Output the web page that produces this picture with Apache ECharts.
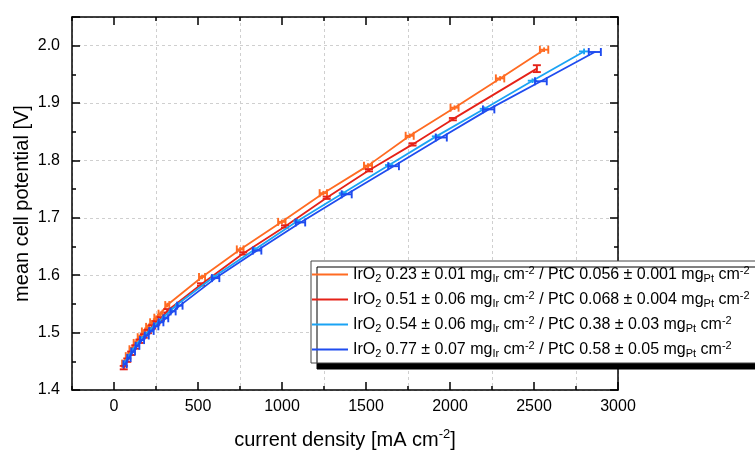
<!DOCTYPE html>
<html>
<head>
<meta charset="utf-8">
<script src="https://cdn.jsdelivr.net/npm/echarts@6/dist/echarts.min.js"></script>
<style>
html,body{margin:0;padding:0;background:#fff;}
#c{width:755px;height:454px;}
</style>
</head>
<body>
<div id="c"></div>
<script>
// ---- data ----
const xMajorTicks = [0, 500, 1000, 1500, 2000, 2500, 3000];
const yTickLabels = [1.4, 1.5, 1.6, 1.7, 1.8, 1.9, 2.0];

const seriesNames = ['s1', 's2', 's3', 's4'];

// IrO2 0.23 / PtC 0.056
const x1 = [56, 78, 101, 126, 151, 176, 201, 226, 251, 277, 317, 524, 751, 999, 1246, 1512, 1760, 2027, 2298, 2560];
const y1 = [1.446, 1.459, 1.471, 1.482, 1.492, 1.502, 1.510, 1.518, 1.526, 1.533, 1.548, 1.597, 1.645, 1.693, 1.743, 1.791, 1.843, 1.892, 1.943, 1.993];
const ex1 = [8, 8, 9, 9, 10, 10, 10, 11, 11, 12, 12, 18, 20, 22, 22, 24, 24, 24, 25, 25];
const ey1 = [0.004, 0.004, 0.004, 0.004, 0.004, 0.004, 0.004, 0.004, 0.004, 0.004, 0.004, 0.004, 0.004, 0.004, 0.004, 0.004, 0.004, 0.004, 0.004, 0.004];

// IrO2 0.51 / PtC 0.068
const x2 = [58, 79, 102, 127, 152, 177, 202, 227, 252, 278, 318, 518, 769, 1018, 1266, 1518, 1777, 2017, 2517];
const y2 = [1.439, 1.452, 1.464, 1.475, 1.485, 1.494, 1.502, 1.510, 1.517, 1.524, 1.538, 1.584, 1.638, 1.685, 1.735, 1.783, 1.828, 1.872, 1.960];
const ex2 = [3, 3, 3, 3, 3, 3, 3, 3, 3, 3, 3, 4, 4, 4, 4, 4, 4, 4, 5];
const ey2 = [0.003, 0.003, 0.003, 0.003, 0.003, 0.003, 0.003, 0.003, 0.003, 0.003, 0.003, 0.002, 0.002, 0.002, 0.002, 0.002, 0.002, 0.002, 0.006];

// IrO2 0.54 / PtC 0.38
const x3 = [62, 84, 108, 133, 160, 187, 214, 241, 268, 296, 338, 376, 593, 838, 1090, 1362, 1638, 1918, 2205, 2491, 2798];
const y3 = [1.447, 1.458, 1.469, 1.479, 1.489, 1.497, 1.505, 1.513, 1.520, 1.527, 1.539, 1.549, 1.597, 1.645, 1.694, 1.743, 1.792, 1.842, 1.890, 1.939, 1.990];
const ex3 = [8, 8, 9, 9, 10, 10, 10, 11, 11, 12, 12, 13, 18, 20, 22, 24, 25, 26, 28, 28, 30];
const ey3 = [0.004, 0.004, 0.004, 0.004, 0.004, 0.004, 0.004, 0.004, 0.004, 0.004, 0.004, 0.004, 0.004, 0.004, 0.004, 0.004, 0.004, 0.004, 0.004, 0.004, 0.005];

// IrO2 0.77 / PtC 0.58
const x4 = [66, 89, 114, 140, 167, 195, 223, 251, 280, 309, 352, 392, 605, 852, 1110, 1385, 1664, 1948, 2230, 2541, 2862];
const y4 = [1.445, 1.456, 1.467, 1.477, 1.487, 1.495, 1.503, 1.511, 1.518, 1.525, 1.537, 1.547, 1.595, 1.643, 1.692, 1.741, 1.790, 1.840, 1.889, 1.938, 1.989];
const ex4 = [10, 10, 11, 11, 12, 12, 13, 13, 14, 14, 15, 16, 22, 25, 28, 30, 32, 33, 34, 35, 36];
const ey4 = [0.001, 0.001, 0.001, 0.001, 0.001, 0.001, 0.001, 0.001, 0.001, 0.001, 0.001, 0.001, 0.001, 0.001, 0.001, 0.001, 0.001, 0.001, 0.001, 0.001, 0.001];

const legendTexts = {
  s1: 'IrO{sub|2} 0.23 ± 0.01 mg{sub|Ir} cm{sup|-2} / PtC 0.056 ± 0.001 mg{sub|Pt} cm{sup|-2}',
  s2: 'IrO{sub|2} 0.51 ± 0.06 mg{sub|Ir} cm{sup|-2} / PtC 0.068 ± 0.004 mg{sub|Pt} cm{sup|-2}',
  s3: 'IrO{sub|2} 0.54 ± 0.06 mg{sub|Ir} cm{sup|-2} / PtC 0.38 ± 0.03 mg{sub|Pt} cm{sup|-2}',
  s4: 'IrO{sub|2} 0.77 ± 0.07 mg{sub|Ir} cm{sup|-2} / PtC 0.58 ± 0.05 mg{sub|Pt} cm{sup|-2}'
};

// ---- styling ----
const FONT = '"Liberation Sans", Arial, sans-serif';
const colors = ['#FF6B22', '#E52218', '#1AA3F4', '#1F4CEF'];
const caps = [[4, 0], [0, 4], [0, 0], [4, 0]]; // [cap on x-bar ends (half height px), cap on y-bar ends (half width px)]

const sets = [[x1, y1, ex1, ey1], [x2, y2, ex2, ey2], [x3, y3, ex3, ey3], [x4, y4, ex4, ey4]];

function errRenderer(color, capX, capY) {
  return function (params, api) {
    const x = api.value(0), y = api.value(1), ex = api.value(2), ey = api.value(3);
    const c = api.coord([x, y]);
    const l = api.coord([x - ex, y]);
    const r = api.coord([x + ex, y]);
    const t = api.coord([x, y + ey]);
    const b = api.coord([x, y - ey]);
    const st = { stroke: color, lineWidth: 1.9 };
    const ch = [
      { type: 'line', shape: { x1: l[0], y1: c[1], x2: r[0], y2: c[1] }, style: st },
      { type: 'line', shape: { x1: c[0], y1: t[1], x2: c[0], y2: b[1] }, style: st }
    ];
    if (capX) {
      ch.push({ type: 'line', shape: { x1: l[0], y1: c[1] - capX, x2: l[0], y2: c[1] + capX }, style: st });
      ch.push({ type: 'line', shape: { x1: r[0], y1: c[1] - capX, x2: r[0], y2: c[1] + capX }, style: st });
    }
    if (capY) {
      ch.push({ type: 'line', shape: { x1: t[0] - capY, y1: t[1], x2: t[0] + capY, y2: t[1] }, style: st });
      ch.push({ type: 'line', shape: { x1: b[0] - capY, y1: b[1], x2: b[0] + capY, y2: b[1] }, style: st });
    }
    return { type: 'group', children: ch };
  };
}

const series = [];
sets.forEach((s, i) => {
  const [xs, ys, exs, eys] = s;
  series.push({
    name: seriesNames[i],
    type: 'line',
    xAxisIndex: 0, yAxisIndex: 0,
    data: xs.map((x, k) => [x, ys[k]]),
    showSymbol: false,
    symbol: 'none',
    lineStyle: { color: colors[i], width: 1.8 },
    itemStyle: { color: colors[i] },
    z: 3 + i,
    animation: false
  });
  series.push({
    name: seriesNames[i],
    type: 'custom',
    xAxisIndex: 0, yAxisIndex: 0,
    data: xs.map((x, k) => [x, ys[k], exs[k], eys[k]]),
    renderItem: errRenderer(colors[i], caps[i][0], caps[i][1]),
    encode: { x: 0, y: 1 },
    z: 3 + i,
    animation: false
  });
});

const axisLine = { show: true, onZero: false, lineStyle: { color: '#000', width: 1.5 } };
const noLine = { show: false, onZero: false };
const tickStyle = { color: '#000', width: 1.5 };
const grid = { left: 72, right: 137, top: 17, bottom: 64, containLabel: false, outerBoundsMode: 'none' };
const XMIN = -250, XMAX = 3000, YMIN = 1.4, YMAX = 2.05;

const option = {
  backgroundColor: '#fff',
  animation: false,
  grid: grid,
  legend: {
    orient: 'vertical',
    left: 311, top: 261,
    padding: [4, 20, 4, 1],
    itemGap: 6,
    itemWidth: 36, itemHeight: 2,
    icon: 'rect',
    backgroundColor: '#fff',
    borderColor: '#444',
    borderWidth: 1,
    shadowColor: '#000',
    shadowBlur: 0,
    shadowOffsetX: 6,
    shadowOffsetY: 6,
    data: seriesNames.map((n, i) => ({ name: n, icon: 'rect', itemStyle: { color: colors[i] } })),
    formatter: n => legendTexts[n],
    textStyle: {
      fontFamily: FONT, fontSize: 16, color: '#000', lineHeight: 19,
      rich: {
        sub: { fontFamily: FONT, fontSize: 11, lineHeight: 9, verticalAlign: 'bottom', color: '#000' },
        sup: { fontFamily: FONT, fontSize: 11, lineHeight: 9, verticalAlign: 'top', color: '#000' }
      }
    }
  },
  xAxis: [
    { // data axis: minor ticks + grid lines at 250, 750, ...
      type: 'value', position: 'bottom', min: XMIN, max: XMAX, interval: 500,
      axisLine: axisLine,
      axisTick: { show: true, inside: true, length: 4, lineStyle: tickStyle },
      axisLabel: { show: false },
      splitLine: { show: true, lineStyle: { color: '#cfcfcf', width: 1, type: [3, 3] } }
    },
    { // major ticks + labels + name
      type: 'value', position: 'bottom', min: XMIN, max: XMAX,
      axisLine: noLine,
      axisTick: { show: true, inside: true, length: 8, lineStyle: tickStyle, customValues: xMajorTicks },
      axisLabel: { show: true, customValues: xMajorTicks, margin: 9, fontFamily: FONT, fontSize: 16, color: '#000', formatter: v => String(v) },
      splitLine: { show: false },
      name: 'current density [mA cm{sup|-2}]',
      nameLocation: 'middle', nameGap: 38, nameMoveOverlap: false,
      nameTextStyle: {
        fontFamily: FONT, fontSize: 20, color: '#000', lineHeight: 24,
        rich: { sup: { fontFamily: FONT, fontSize: 13, lineHeight: 12, verticalAlign: 'top', color: '#000' } }
      }
    },
    {
      type: 'value', position: 'top', min: XMIN, max: XMAX, interval: 500,
      axisLine: axisLine,
      axisTick: { show: true, inside: true, length: 4, lineStyle: tickStyle },
      axisLabel: { show: false }, splitLine: { show: false }
    },
    {
      type: 'value', position: 'top', min: XMIN, max: XMAX,
      axisLine: noLine,
      axisTick: { show: true, inside: true, length: 8, lineStyle: tickStyle, customValues: xMajorTicks },
      axisLabel: { show: false }, splitLine: { show: false }
    }
  ],
  yAxis: [
    {
      type: 'value', position: 'left', min: YMIN, max: YMAX, interval: 0.1,
      axisLine: axisLine,
      axisTick: { show: true, inside: true, length: 8, lineStyle: tickStyle },
      axisLabel: {
        show: true, margin: 12, fontFamily: FONT, fontSize: 16, color: '#000',
        formatter: v => (yTickLabels.some(t => Math.abs(t - v) < 1e-6) ? v.toFixed(1) : '')
      },
      splitLine: { show: true, lineStyle: { color: '#cfcfcf', width: 1, type: [3, 3] } },
      name: 'mean cell potential [V]',
      nameLocation: 'middle', nameGap: 40, nameMoveOverlap: false,
      nameTextStyle: { fontFamily: FONT, fontSize: 20, color: '#000' }
    },
    {
      type: 'value', position: 'left', min: YMIN, max: YMAX, interval: 0.05,
      axisLine: noLine,
      axisTick: { show: true, inside: true, length: 4, lineStyle: tickStyle },
      axisLabel: { show: false }, splitLine: { show: false }
    },
    {
      type: 'value', position: 'right', min: YMIN, max: YMAX, interval: 0.1,
      axisLine: axisLine,
      axisTick: { show: true, inside: true, length: 8, lineStyle: tickStyle },
      axisLabel: { show: false }, splitLine: { show: false }
    },
    {
      type: 'value', position: 'right', min: YMIN, max: YMAX, interval: 0.05,
      axisLine: noLine,
      axisTick: { show: true, inside: true, length: 4, lineStyle: tickStyle },
      axisLabel: { show: false }, splitLine: { show: false }
    }
  ],
  series: series
};

const chart = echarts.init(document.getElementById('c'), null, { renderer: 'canvas' });
chart.setOption(option);
</script>
</body>
</html>
